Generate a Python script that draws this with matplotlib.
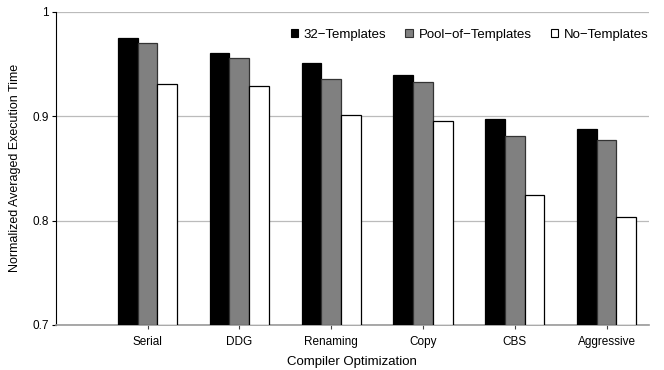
import numpy as np
import matplotlib
matplotlib.use("Agg")
import matplotlib.pyplot as plt
from matplotlib.patches import Patch

plt.rcParams["font.family"] = ["Liberation Sans", "DejaVu Sans"]

# ---- data ----
categories   = ["Serial", "DDG", "Renaming", "Copy", "CBS", "Aggressive"]
t32          = [0.975, 0.961, 0.951, 0.939, 0.897, 0.888]
pool         = [0.970, 0.956, 0.936, 0.933, 0.881, 0.877]
no_templates = [0.931, 0.929, 0.901, 0.895, 0.824, 0.803]

series = [("32\u2212Templates", t32, "black", "black"),
          ("Pool\u2212of\u2212Templates", pool, "#808080", "#333333"),
          ("No\u2212Templates", no_templates, "white", "black")]

fig = plt.figure(figsize=(6.64, 3.70), dpi=100)
ax = fig.add_axes([0.084, 0.122, 0.893, 0.846])

x = np.arange(len(categories))
w = 0.215
for i, (name, vals, fc, ec) in enumerate(series):
    ax.bar(x + (i - 1) * w, np.array(vals) - 0.7, w, bottom=0.7,
           color=fc, edgecolor=ec, linewidth=0.9, zorder=3)

ax.set_ylim(0.7, 1.0)
ax.set_xlim(-1.0, 5.46)
ax.set_yticks([0.7, 0.8, 0.9, 1.0])
ax.set_yticklabels(["0.7", "0.8", "0.9", "1"])
ax.set_xticks(x)
ax.set_xticklabels(categories)
ax.yaxis.grid(True, color="#bbbbbb", lw=0.9, zorder=0)

for s in ("top", "right"):
    ax.spines[s].set_visible(False)
ax.spines["left"].set_color("black")
ax.spines["bottom"].set_color("#999999")
ax.spines["bottom"].set_linewidth(1.2)
ax.tick_params(axis="y", length=3, labelsize=8.5, pad=2)
ax.tick_params(axis="x", length=3, labelsize=8.5, pad=5, color="#444444")

ax.set_xlabel("Compiler Optimization", fontsize=9.5, labelpad=6)
ax.set_ylabel("Normalized Averaged Execution Time", fontsize=9, labelpad=8)

handles = [Patch(facecolor=fc, edgecolor=ec, linewidth=0.8) for _, _, fc, ec in series]
ax.legend(handles, [s[0] for s in series], ncol=3, frameon=False,
          loc="upper right", bbox_to_anchor=(1.0, 0.945), fontsize=9.5,
          borderaxespad=0, borderpad=0,
          handlelength=0.55, handleheight=0.55, handletextpad=0.45,
          columnspacing=1.45)

fig.savefig("out.png", dpi=100)
